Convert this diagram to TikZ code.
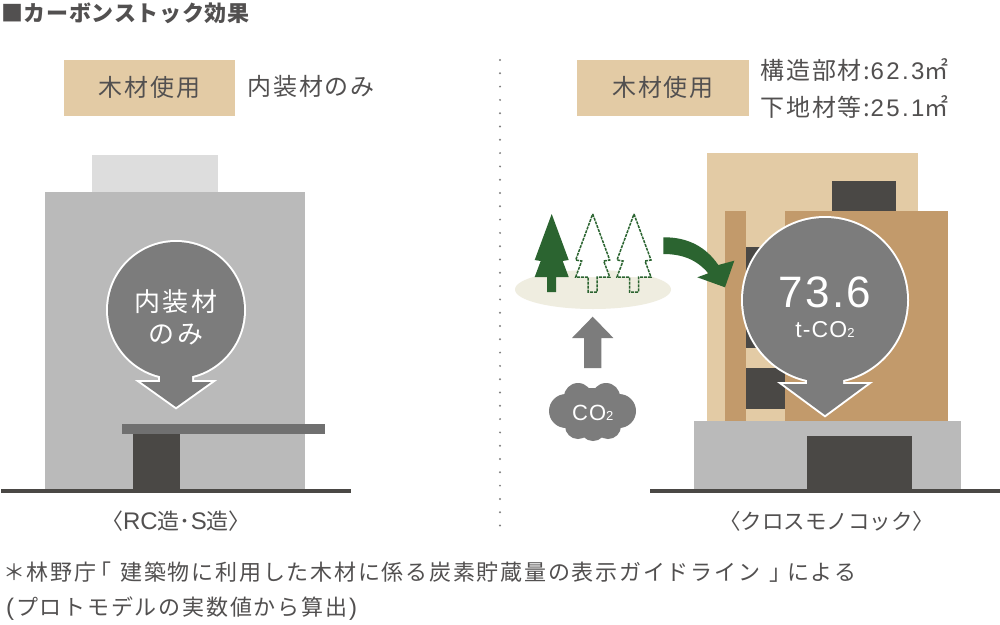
\documentclass[tikz,border=0pt]{standalone}
\usepackage{fontspec}
\setmainfont{Liberation Sans}
\newfontfamily\jp[LetterSpace=8]{Noto Sans CJK JP}
\newfontfamily\jptight{Noto Sans CJK JP}
\newfontfamily\jpmed[LetterSpace=3]{Noto Sans CJK JP}
\newfontfamily\lat[LetterSpace=5]{Liberation Sans}
\newfontfamily\latw[LetterSpace=10]{Liberation Sans}
\newfontfamily\latplain{Liberation Sans}
\definecolor{tagc}{HTML}{E3CBA5}
\definecolor{woodc}{HTML}{C29A6B}
\definecolor{darkc}{HTML}{4A4845}
\definecolor{greyc}{HTML}{BABABA}
\definecolor{paleg}{HTML}{DDDDDD}
\definecolor{midc}{HTML}{7C7C7C}
\definecolor{txtc}{HTML}{525050}
\definecolor{ell}{HTML}{EFEDE0}
\definecolor{treec}{HTML}{2B6430}
\newcommand{\treeshape}[1]{(#1,214) -- ++(17,46) -- ++(-6,1) -- ++(6,16) -- ++(-12.5,0) -- ++(0,15) -- ++(-9,0) -- ++(0,-15) -- ++(-12.5,0) -- ++(6,-16) -- ++(-6,-1) -- cycle}
\begin{document}
\begin{tikzpicture}[x=1pt,y=-1pt,
  label24/.style={text=txtc,font=\jp\fontsize{24}{24}\selectfont,inner sep=0pt},
  capt/.style={text=txtc,font=\jp\fontsize{22}{22}\selectfont,inner sep=0pt},
  white24/.style={text=white,inner sep=0pt},
  halo/.style={white,line width=4pt}]
\useasboundingbox (0,0) rectangle (1000,624);
\fill[white] (0,0) rectangle (1000,624);
% title
\node[anchor=west,text=txtc,inner sep=0pt,font=\jpmed\bfseries\fontsize{22}{22}\selectfont] (title) at (1,13) {■カーボンストック効果};
% tags
\fill[tagc] (64,60) rectangle (235,116);
\fill[tagc] (577,60) rectangle (749,116);
\node[label24] (tagl) at (149.5,87) {木材使用};
\node[label24] (tagr) at (663,87) {木材使用};
\node[label24,anchor=west] (inl) at (247,86) {内装材のみ};
\node[label24,anchor=west] (spec1) at (760,70) {構造部材:{\latw 62.3}㎡};
\node[label24,anchor=west] (spec2) at (760,107) {下地材等:{\latw 25.1}㎡};
% divider
\draw[gray,line width=2.2pt,line cap=round,dash pattern=on 0pt off 13.3pt] (500,60) -- (500,535);
% left building
\fill[paleg] (92,155) rectangle (218,192);
\fill[greyc] (45,192) rectangle (305,490);
\fill[darkc] (133,432) rectangle (180,490);
\fill[midc!90!black] (122,424) rectangle (325,434);
\fill[darkc] (1,489) rectangle (351,493);
% left bubble
\draw[halo] (176,310) circle[radius=68];
\draw[halo] (160,370) -- (160,382) -- (141,382) -- (176,407) -- (211,382) -- (192,382) -- (192,370) -- cycle;
\fill[midc] (176,310) circle[radius=68];
\fill[midc] (160,370) -- (160,382) -- (141,382) -- (176,407) -- (211,382) -- (192,382) -- (192,370) -- cycle;
\node[white24,font=\jp\fontsize{26}{26}\selectfont] (bl1) at (176,302) {内装材};
\node[white24,font=\jp\fontsize{26}{26}\selectfont] (bl2) at (176,335) {のみ};
% right building
\fill[tagc] (707,153) rectangle (918,421);
\fill[darkc] (832,181) rectangle (896,211);
\fill[woodc] (725,211) rectangle (746,421);
\fill[woodc] (785,211) rectangle (948,421);
\fill[darkc] (746,247) rectangle (785,348);
\fill[darkc] (746,368) rectangle (785,409);
\fill[greyc] (694,421) rectangle (961,490);
\fill[darkc] (807,436) rectangle (912,490);
\fill[darkc] (650,489) rectangle (1000,493);
% right bubble
\draw[halo] (825,300) circle[radius=82];
\draw[halo] (807,370) -- (807,384) -- (783,384) -- (825,415) -- (867,384) -- (843,384) -- (843,370) -- cycle;
\fill[midc] (825,300) circle[radius=82];
\fill[midc] (807,370) -- (807,384) -- (783,384) -- (825,415) -- (867,384) -- (843,384) -- (843,370) -- cycle;
\node[white24,font=\lat\fontsize{44}{44}\selectfont] (val) at (825,292) {73.6};
\node[white24,font=\lat\fontsize{23}{23}\selectfont] (unit) at (825,330) {t-CO{\fontsize{13}{13}\selectfont 2}};
% forest
\fill[ell] (593,289.5) ellipse[x radius=78,y radius=19.5];
\fill[treec] \treeshape{551.7};
\fill[white] (592.7,214) -- ++(17,46) -- ++(-6,1) -- ++(6,16) -- ++(-34,0) -- ++(6,-16) -- ++(-6,-1) -- cycle;
\fill[white] (634,214) -- ++(17,46) -- ++(-6,1) -- ++(6,16) -- ++(-34,0) -- ++(6,-16) -- ++(-6,-1) -- cycle;
\draw[treec,line width=1.5pt,dash pattern=on 3pt off 1pt] \treeshape{592.7};
\draw[treec,line width=1.5pt,dash pattern=on 3pt off 1pt] \treeshape{634};
% green arrow
\fill[treec] (663.3,237.3) .. controls (688,237) and (706,247) .. (718.3,265) -- (734.3,260.7) -- (725,287.3) -- (697.3,277.3) -- (708.3,273.3) .. controls (697,260) and (683,254) .. (663.3,254) -- cycle;
% up arrow
\fill[midc] (592.7,316.7) -- (613.4,338) -- (601.4,338) -- (601.4,368) -- (584,368) -- (584,338) -- (572,338) -- cycle;
% cloud
\fill[midc] (592.7,412) ellipse[x radius=34,y radius=24];
\fill[midc] (566,411) circle[radius=17];
\fill[midc] (619,411) circle[radius=17];
\fill[midc] (578,397) circle[radius=14];
\fill[midc] (606,397) circle[radius=14];
\fill[midc] (578,426) circle[radius=13];
\fill[midc] (593,428) circle[radius=13];
\fill[midc] (608,426) circle[radius=13];
\node[white24,font=\lat\fontsize{22}{22}\selectfont] (cotwo) at (592.7,413) {CO{\fontsize{13}{13}\selectfont 2}};
% captions
\node[text=txtc,inner sep=0pt,font=\jptight\fontsize{22}{22}\selectfont] (capl) at (176,521) {〈{\latplain\fontsize{24}{24}\selectfont RC}造･{\latplain\fontsize{24}{24}\selectfont S}造〉};
\node[text=txtc,inner sep=0pt,font=\jptight\fontsize{21.5}{21.5}\selectfont] (capr) at (826.5,521) {〈クロスモノコック〉};
\node[capt,anchor=west] (note1) at (3,572) {＊林野庁\kern-7pt「\kern9pt 建築物に利用した木材に係る炭素貯蔵量の表示ガイドライン\kern9pt 」\kern-4pt による};
\node[capt,anchor=west] (note2) at (3,609) {\kern3pt{\latplain\fontsize{24}{24}\selectfont (}\kern2pt プロトモデルの実数値から算出\kern2pt{\latplain\fontsize{24}{24}\selectfont )}};
\end{tikzpicture}
\end{document}
